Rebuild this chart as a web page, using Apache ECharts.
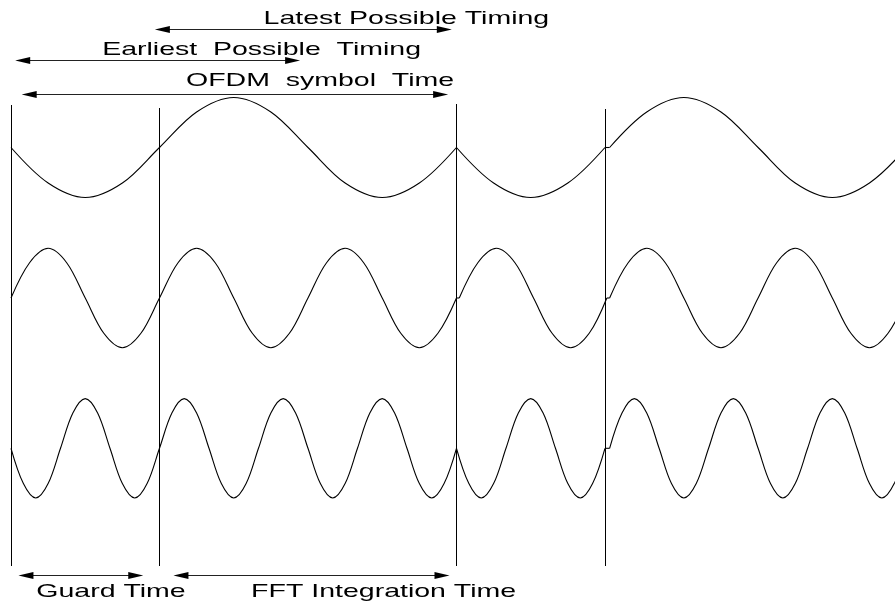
<!DOCTYPE html>
<html>
<head>
<meta charset="utf-8">
<script src="https://cdn.jsdelivr.net/npm/echarts@6/dist/echarts.min.js"></script>
<style>
html,body{margin:0;padding:0;background:#fff;}
#chart{width:895px;height:605px;}
</style>
</head>
<body>
<div id="chart"></div>
<script>
// ---------- DATA (time in samples, amplitude in -1..1) ----------
const boundaryTimes = [0, 32, 96, 128];

// top sub-carrier (1 cycle per FFT window)
const topWaveSymbol1 = [[0,0],[8,-0.71],[16,-1],[24,-0.71],[32,0],[40,0.71],[48,1],[56,0.71],[64,0],[72,-0.71],[80,-1],[88,-0.71],[96,0]];
const topWaveGuard2  = [[96,0],[104,-0.71],[112,-1],[120,-0.71],[128,0]];
const topWaveFFT2    = [[129,0],[137,0.71],[145,1],[153,0.71],[161,0],[169,-0.71],[177,-1],[185,-0.71],[193,0]];

// middle sub-carrier (2 cycles per FFT window)
const midWaveSymbol1 = [[0,0],[4,0.71],[8,1],[12,0.71],[16,0],[20,-0.71],[24,-1],[28,-0.71],[32,0],[36,0.71],[40,1],[44,0.71],[48,0],[52,-0.71],[56,-1],[60,-0.71],[64,0],[68,0.71],[72,1],[76,0.71],[80,0],[84,-0.71],[88,-1],[92,-0.71],[96,0]];
const midWaveGuard2  = [[96.6,0],[100.6,0.71],[104.6,1],[108.6,0.71],[112.6,0],[116.6,-0.71],[120.6,-1],[124.6,-0.71],[128.4,0]];
const midWaveFFT2    = [[129,0],[133,0.71],[137,1],[141,0.71],[145,0],[149,-0.71],[153,-1],[157,-0.71],[161,0],[165,0.71],[169,1],[173,0.71],[177,0],[181,-0.71],[185,-1],[189,-0.71],[193,0]];

// bottom sub-carrier (3 cycles per FFT window)
const lowWaveSymbol1 = [[0,0],[2.67,-0.71],[5.33,-1],[8,-0.71],[10.67,0],[13.33,0.71],[16,1],[18.67,0.71],[21.33,0],[24,-0.71],[26.67,-1],[29.33,-0.71],[32,0],[34.67,0.71],[37.33,1],[40,0.71],[42.67,0],[45.33,-0.71],[48,-1],[50.67,-0.71],[53.33,0],[56,0.71],[58.67,1],[61.33,0.71],[64,0],[66.67,-0.71],[69.33,-1],[72,-0.71],[74.67,0],[77.33,0.71],[80,1],[82.67,0.71],[85.33,0],[88,-0.71],[90.67,-1],[93.33,-0.71],[96,0]];
const lowWaveGuard2  = [[96,0],[98.67,-0.71],[101.33,-1],[104,-0.71],[106.67,0],[109.33,0.71],[112,1],[114.67,0.71],[117.33,0],[120,-0.71],[122.67,-1],[125.33,-0.71],[128,0]];
const lowWaveFFT2    = [[129,0],[131.67,0.71],[134.33,1],[137,0.71],[139.67,0],[142.33,-0.71],[145,-1],[147.67,-0.71],[150.33,0],[153,0.71],[155.67,1],[158.33,0.71],[161,0],[163.67,-0.71],[166.33,-1],[169,-0.71],[171.67,0],[174.33,0.71],[177,1],[179.67,0.71],[182.33,0],[185,-0.71],[187.67,-1],[190.33,-0.71],[193,0]];

const arrowSpans = [[31.0,95.0],[0.9,62.3],[2.3,94.2],[1.6,28.5],[35.0,94.5]];
const annotationLabels = ['Latest Possible Timing','Earliest  Possible  Timing','OFDM  symbol  Time','Guard Time','FFT Integration Time'];

// ---------- LAYOUT / STYLE ----------
const LAYOUT = {
  left: 11,
  timeMax: 190.5,
  boundaryTop: [105, 108, 104, 109],
  boundaryBottom: 566,
  arrowRows: [29.5, 60.5, 94.5, 575.5, 575.5],
  labelAnchorT: [85.2, 54.0, 66.6, 21.55, 80.3],
  labelRows: [18.5, 49.5, 80.7, 591.7, 591.7],
  waveGrids: [{top: 97.5, height: 100}, {top: 248.3, height: 99.4}, {top: 398.6, height: 99.4}],
  headLen: 15,
  headHalf: 3.5,
  font: '19px "Liberation Sans", Arial, Helvetica, sans-serif',
  textScaleX: 1.5
};

const chart = echarts.init(document.getElementById('chart'), null, {renderer: 'canvas'});

const grids = [{left: LAYOUT.left, right: 0, top: 0, bottom: 0}];
LAYOUT.waveGrids.forEach(g => grids.push({left: LAYOUT.left, right: 0, top: g.top, height: g.height}));

const xAxes = grids.map((g, i) => ({type: 'value', gridIndex: i, min: 0, max: LAYOUT.timeMax, show: false}));
const yAxes = grids.map((g, i) => i === 0
  ? {type: 'value', gridIndex: 0, min: 0, max: 605, inverse: true, show: false}
  : {type: 'value', gridIndex: i, min: -1, max: 1, show: false});

function waveSeries(data, gi, smooth) {
  return {
    type: 'line', xAxisIndex: gi, yAxisIndex: gi, data: data,
    smooth: smooth, showSymbol: false, symbol: 'none', clip: false,
    lineStyle: {color: '#000', width: 1.1}, silent: true
  };
}
// short flat joins between consecutive segments (built from segment end points)
function join(a, b, gi) {
  return waveSeries([a[a.length - 1], b[0]], gi, false);
}

const S = 0.34;
const series = [
  waveSeries(topWaveSymbol1, 1, S),
  waveSeries(topWaveGuard2, 1, S),
  join(topWaveGuard2, topWaveFFT2, 1),
  waveSeries(topWaveFFT2, 1, S),

  waveSeries(midWaveSymbol1, 2, S),
  join(midWaveSymbol1, midWaveGuard2, 2),
  waveSeries(midWaveGuard2, 2, S),
  join(midWaveGuard2, midWaveFFT2, 2),
  waveSeries(midWaveFFT2, 2, S),

  waveSeries(lowWaveSymbol1, 3, S),
  waveSeries(lowWaveGuard2, 3, S),
  join(lowWaveGuard2, lowWaveFFT2, 3),
  waveSeries(lowWaveFFT2, 3, S),
  {
    type: 'custom', xAxisIndex: 0, yAxisIndex: 0, silent: true,
    data: boundaryTimes.map(t => [t, 0]),
    renderItem: function (params, api) {
      const i = params.dataIndex;
      const p1 = api.coord([api.value(0), LAYOUT.boundaryTop[i]]);
      const p2 = api.coord([api.value(0), LAYOUT.boundaryBottom]);
      const x = Math.round(p1[0]) + 0.5;
      return {type: 'line', shape: {x1: x, y1: p1[1], x2: x, y2: p2[1]}, style: {stroke: '#000', lineWidth: 1}};
    }
  },
  {
    type: 'custom', xAxisIndex: 0, yAxisIndex: 0, silent: true,
    data: arrowSpans,
    renderItem: function (params, api) {
      const i = params.dataIndex;
      const row = LAYOUT.arrowRows[i];
      const a = api.coord([api.value(0), row]);
      const b = api.coord([api.value(1), row]);
      const y = a[1];
      const L = LAYOUT.headLen, W = LAYOUT.headHalf;
      return {
        type: 'group',
        children: [
          {type: 'line', shape: {x1: a[0] + 3, y1: y, x2: b[0] - 3, y2: y}, style: {stroke: '#222', lineWidth: 1}},
          {type: 'polygon', shape: {points: [[a[0], y], [a[0] + L, y - W], [a[0] + L, y + W]]}, style: {fill: '#000'}},
          {type: 'polygon', shape: {points: [[b[0], y], [b[0] - L, y - W], [b[0] - L, y + W]]}, style: {fill: '#000'}}
        ]
      };
    }
  },
  {
    type: 'custom', xAxisIndex: 0, yAxisIndex: 0, silent: true,
    data: annotationLabels.map((s, i) => [LAYOUT.labelAnchorT[i], LAYOUT.labelRows[i]]),
    renderItem: function (params, api) {
      const i = params.dataIndex;
      const p = api.coord([api.value(0), api.value(1)]);
      return {
        type: 'text', x: p[0], y: p[1], scaleX: LAYOUT.textScaleX, scaleY: 1,
        style: {
          text: annotationLabels[i], fill: '#000', font: LAYOUT.font,
          align: 'center', verticalAlign: 'middle',
          textAlign: 'center', textVerticalAlign: 'middle'
        }
      };
    }
  }
];

chart.setOption({
  animation: false,
  backgroundColor: '#fff',
  grid: grids,
  xAxis: xAxes,
  yAxis: yAxes,
  series: series
});
</script>
</body>
</html>
